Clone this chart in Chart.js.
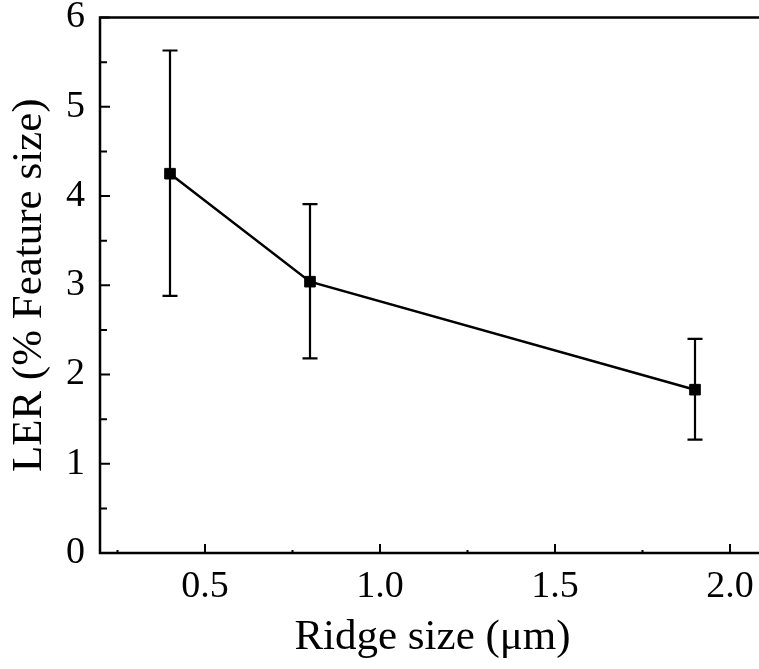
<!DOCTYPE html>
<html>
<head>
<meta charset="utf-8">
<script src="https://cdn.jsdelivr.net/npm/chart.js@4.4.1/dist/chart.umd.min.js"></script>
<style>
  html, body { margin: 0; padding: 0; background: #fff; overflow: hidden; }
  #wrap { width: 775px; height: 669px; }
</style>
</head>
<body>
<div id="wrap"><canvas id="myChart1"></canvas></div>
<script>
//------------------ data ------------------//
const ridgeSize = [0.4, 0.8, 1.9]          // µm
const lerValue  = [4.25, 3.04, 1.83]       // % feature size
const errUpper  = [5.63, 3.91, 2.40]
const errLower  = [2.88, 2.18, 1.27]
const xTicks = [0.5, 1.0, 1.5, 2.0]
const xMinorTicks = [0.25, 0.75, 1.25, 1.75]
const yTicks = [0, 1, 2, 3, 4, 5, 6]
const yMinorTicks = [0.5, 1.5, 2.5, 3.5, 4.5, 5.5]
//------------------------------------------//

const FONT = "'Liberation Serif', 'DejaVu Serif', serif"
const INK = '#000'

// axes box, inward ticks, error bars
const framePlugin = {
    id: 'frame',
    beforeDatasetsDraw(chart){
        const ctx = chart.ctx
        const a = chart.chartArea
        const xs = chart.scales.x
        const ys = chart.scales.y
        ctx.save()
        ctx.strokeStyle = INK

        // error bars
        ctx.lineWidth = 2.2
        for (let i=0; i<ridgeSize.length; i++){
            const px = xs.getPixelForValue(ridgeSize[i])
            const top = ys.getPixelForValue(errUpper[i])
            const bot = ys.getPixelForValue(errLower[i])
            ctx.beginPath()
            ctx.moveTo(px, top); ctx.lineTo(px, bot)
            ctx.moveTo(px-7.5, top); ctx.lineTo(px+7.5, top)
            ctx.moveTo(px-7.5, bot); ctx.lineTo(px+7.5, bot)
            ctx.stroke()
        }

        // axis lines (left, bottom, top)
        ctx.lineWidth = 2.5
        ctx.beginPath()
        ctx.moveTo(a.right, a.top)
        ctx.lineTo(a.left, a.top)
        ctx.lineTo(a.left, a.bottom)
        ctx.lineTo(a.right, a.bottom)
        ctx.stroke()

        // ticks pointing inward
        ctx.lineWidth = 2
        ctx.beginPath()
        xTicks.forEach(v => {
            const p = xs.getPixelForValue(v)
            ctx.moveTo(p, a.bottom); ctx.lineTo(p, a.bottom - 9)
        })
        xMinorTicks.forEach(v => {
            const p = xs.getPixelForValue(v)
            ctx.moveTo(p, a.bottom); ctx.lineTo(p, a.bottom - 3)
        })
        yTicks.forEach(v => {
            const p = ys.getPixelForValue(v)
            ctx.moveTo(a.left, p); ctx.lineTo(a.left + 10, p)
        })
        yMinorTicks.forEach(v => {
            const p = ys.getPixelForValue(v)
            ctx.moveTo(a.left, p); ctx.lineTo(a.left + 7, p)
        })
        ctx.stroke()
        ctx.restore()
    }
}

const ctx = document.getElementById('myChart1')
window.myChart = new Chart(ctx, {
    type: 'line',
    data: {
        datasets: [{
            data: ridgeSize.map((x, i) => ({x: x, y: lerValue[i]})),
            borderColor: INK,
            backgroundColor: INK,
            borderWidth: 2.5,
            pointStyle: 'rect',
            pointRadius: 7.5,
            pointBorderWidth: 1,
            tension: 0,
        }]
    },
    options: {
        responsive: true,
        maintainAspectRatio: false,
        animation: false,
        events: [],
        layout: { padding: { top: 17.5, right: 10, left: 0, bottom: 0 } },
        plugins: { legend: { display: false }, tooltip: { enabled: false } },
        scales: {
            x: {
                type: 'linear',
                min: 0.2,
                max: 2.1,
                grid: { display: false, drawTicks: false },
                border: { display: false },
                afterBuildTicks: s => { s.ticks = xTicks.map(v => ({value: v})) },
                afterFit: s => { s.height = 116; s.paddingLeft = 0; s.paddingRight = 0 },
                ticks: {
                    padding: 11,
                    color: INK,
                    font: { family: FONT, size: 38 },
                    callback: v => Number(v).toFixed(1),
                    maxRotation: 0,
                },
                title: {
                    display: true,
                    text: 'Ridge size (μm)',
                    color: INK,
                    font: { family: FONT, size: 43, lineHeight: 1 },
                    padding: { top: 0, bottom: 10 },
                }
            },
            y: {
                type: 'linear',
                min: 0,
                max: 6,
                grid: { display: false, drawTicks: false },
                border: { display: false },
                afterBuildTicks: s => { s.ticks = yTicks.map(v => ({value: v})) },
                afterFit: s => { s.width = 100; s.paddingTop = 0; s.paddingBottom = 0 },
                ticks: {
                    padding: 15,
                    color: INK,
                    font: { family: FONT, size: 38 },
                },
                title: {
                    display: true,
                    text: 'LER (% Feature size)',
                    color: INK,
                    font: { family: FONT, size: 43, lineHeight: 1 },
                    padding: { top: 8, bottom: 0 },
                }
            }
        }
    },
    plugins: [framePlugin]
})
</script>
</body>
</html>
